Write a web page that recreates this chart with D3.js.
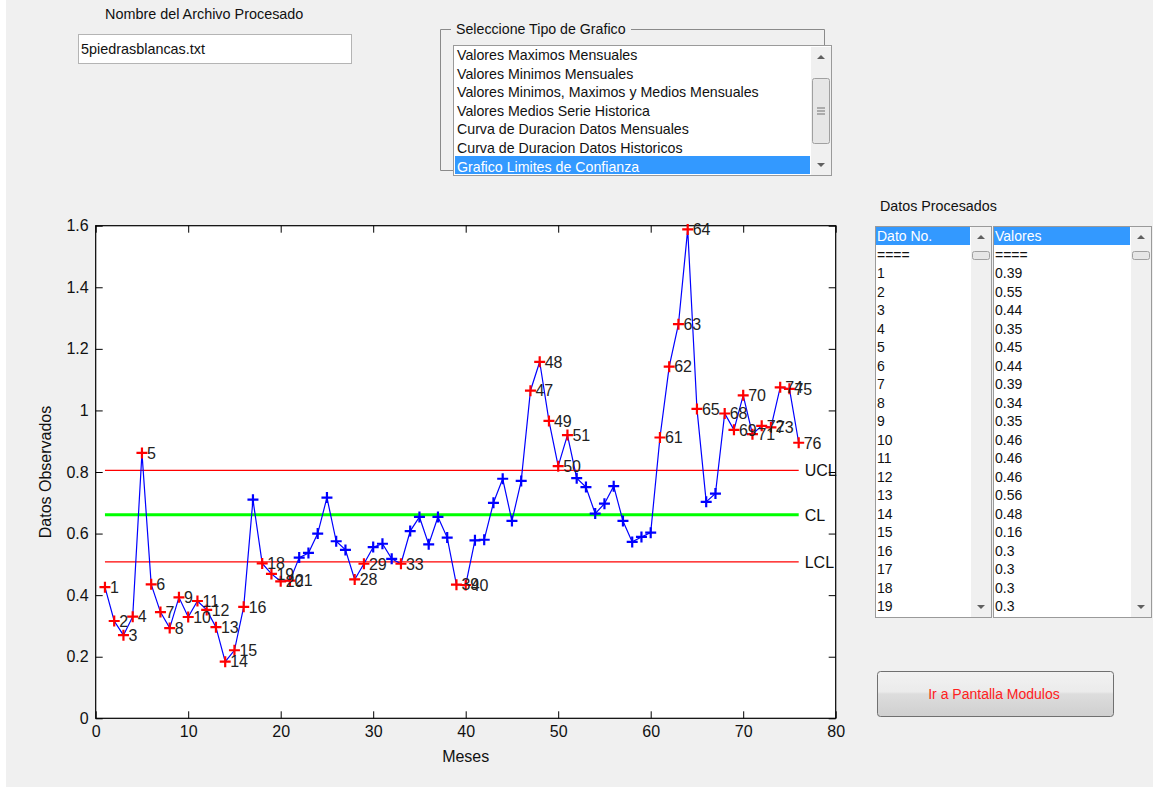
<!DOCTYPE html>
<html>
<head>
<meta charset="utf-8">
<script src="https://cdn.jsdelivr.net/npm/d3@7"></script>
<style>
  body { margin: 0; background: #fff; }
  svg { display: block; font-family: "Liberation Sans", Arial, sans-serif; }
</style>
</head>
<body>
<div id="chart-area"></div>
<script>
// Datos observados por mes (1..76)
let valores = [
  0.426, 0.316, 0.270, 0.330, 0.862, 0.435, 0.345, 0.293, 0.393, 0.329,
  0.381, 0.352, 0.296, 0.184, 0.221, 0.362, 0.710, 0.503, 0.469, 0.445,
  0.447, 0.522, 0.537, 0.600, 0.717, 0.575, 0.547, 0.451, 0.502, 0.556,
  0.567, 0.518, 0.502, 0.608, 0.654, 0.565, 0.654, 0.587, 0.434, 0.433,
  0.578, 0.580, 0.700, 0.778, 0.641, 0.771, 1.064, 1.158, 0.966, 0.819,
  0.920, 0.780, 0.751, 0.665, 0.697, 0.754, 0.641, 0.573, 0.589, 0.603,
  0.912, 1.142, 1.280, 1.588, 1.005, 0.703, 0.730, 0.990, 0.937, 1.049,
  0.923, 0.950, 0.945, 1.075, 1.070, 0.895
];
let meses = valores.map((v, i) => i + 1);

// Limites de confianza
let limites = [
  { name: 'UCL', value: 0.805, color: '#ff0000', width: 1.2 },
  { name: 'CL', value: 0.661, color: '#00ff00', width: 3 },
  { name: 'LCL', value: 0.508, color: '#ff0000', width: 1.2 }
];

let xTicks = [0, 10, 20, 30, 40, 50, 60, 70, 80];
let yTicks = [0, 0.2, 0.4, 0.6, 0.8, 1, 1.2, 1.4, 1.6];

// Interfaz
let tiposGrafico = [
  'Valores Maximos Mensuales',
  'Valores Minimos Mensuales',
  'Valores Minimos, Maximos y Medios Mensuales',
  'Valores Medios Serie Historica',
  'Curva de Duracion Datos Mensuales',
  'Curva de Duracion Datos Historicos',
  'Grafico Limites de Confianza'
];
let datoNo = ['====', '1', '2', '3', '4', '5', '6', '7', '8', '9', '10',
  '11', '12', '13', '14', '15', '16', '17', '18', '19'];
let datoValores = ['====', '0.39', '0.55', '0.44', '0.35', '0.45', '0.44', '0.39',
  '0.34', '0.35', '0.46', '0.46', '0.46', '0.56', '0.48', '0.16', '0.3', '0.3',
  '0.3', '0.3'];

let W = 1153, H = 789;
let svg = d3.select('#chart-area').append('svg')
  .attr('width', W).attr('height', H);

// fondo de la figura
svg.append('rect').attr('x', 6).attr('y', 0).attr('width', W - 6).attr('height', 787)
  .attr('fill', '#f0f0f0');

// ---------- controles superiores ----------
svg.append('text').attr('x', 105).attr('y', 19).attr('font-size', 14.4)
  .attr('fill', '#111').text('Nombre del Archivo Procesado');
svg.append('rect').attr('x', 78.5).attr('y', 34.5).attr('width', 273).attr('height', 29)
  .attr('fill', '#fff').attr('stroke', '#b4b4b4');
svg.append('text').attr('x', 81).attr('y', 54).attr('font-size', 14.4)
  .attr('fill', '#111').text('5piedrasblancas.txt');

// group box
let gb = svg.append('g');
gb.append('path').attr('d', 'M451,29.5 H440.5 V170.5 H455')
  .attr('fill', 'none').attr('stroke', '#8a8a8a');
gb.append('path').attr('d', 'M631,29.5 H824.5 V46')
  .attr('fill', 'none').attr('stroke', '#8a8a8a');
gb.append('text').attr('x', 456).attr('y', 34).attr('font-size', 14.2)
  .attr('fill', '#111').text('Seleccione Tipo de Grafico');

// listbox
let lb = svg.append('g');
lb.append('rect').attr('x', 453.5).attr('y', 45.5).attr('width', 378).attr('height', 130)
  .attr('fill', '#fff').attr('stroke', '#9a9a9a');
lb.append('rect').attr('x', 455).attr('y', 156).attr('width', 355).attr('height', 18)
  .attr('fill', '#3399ff');
lb.selectAll('text.item').data(tiposGrafico).enter().append('text')
  .attr('class', 'item')
  .attr('x', 457)
  .attr('y', (d, i) => 60 + i * 18.6)
  .attr('font-size', 14.2)
  .attr('fill', (d, i) => i === tiposGrafico.length - 1 ? '#fff' : '#111')
  .text(d => d);
drawScrollbar(lb, 811, 47, 20, 128, 78, 65, true);

// ---------- Datos Procesados ----------
svg.append('text').attr('x', 880).attr('y', 211).attr('font-size', 14.3)
  .attr('fill', '#111').text('Datos Procesados');
drawList(875, ['Dato No.'].concat(datoNo), 117);
drawList(993, ['Valores'].concat(datoValores), 159);

function drawList(x0, items, w) {
  let g = svg.append('g');
  g.append('rect').attr('x', x0 + 0.5).attr('y', 226.5).attr('width', w - 1).attr('height', 391)
    .attr('fill', '#fff').attr('stroke', '#9a9a9a');
  g.append('rect').attr('x', x0 + 1).attr('y', 227).attr('width', w - 23).attr('height', 18)
    .attr('fill', '#3399ff');
  g.selectAll('text').data(items).enter().append('text')
    .attr('x', x0 + 2)
    .attr('y', (d, i) => 241 + i * 18.5)
    .attr('font-size', 14)
    .attr('fill', (d, i) => i === 0 ? '#fff' : '#111')
    .text(d => d);
  drawScrollbar(g, x0 + w - 21, 227, 20, 390, 251, 8, false);
}

function drawScrollbar(g, x, y, w, h, ty, th, grip) {
  g.append('rect').attr('x', x).attr('y', y).attr('width', w).attr('height', h)
    .attr('fill', '#f0f0f0');
  g.append('path')
    .attr('d', `M${x + w / 2 - 4},${y + 12} L${x + w / 2 + 4},${y + 12} L${x + w / 2},${y + 8} Z`)
    .attr('fill', '#606060');
  g.append('path')
    .attr('d', `M${x + w / 2 - 4},${y + h - 12} L${x + w / 2 + 4},${y + h - 12} L${x + w / 2},${y + h - 8} Z`)
    .attr('fill', '#606060');
  g.append('rect').attr('x', x + 1.5).attr('y', ty + 0.5).attr('width', w - 3).attr('height', th)
    .attr('rx', 2).attr('fill', '#e6e6e6').attr('stroke', '#a0a0a0');
  if (grip) {
    let cy = ty + th / 2;
    [-3, 0, 3].forEach(o => {
      g.append('line').attr('x1', x + w / 2 - 4).attr('x2', x + w / 2 + 4)
        .attr('y1', cy + o + 0.5).attr('y2', cy + o + 0.5).attr('stroke', '#707070');
    });
  }
}

// boton
let defs = svg.append('defs');
let grad = defs.append('linearGradient').attr('id', 'btn').attr('x1', 0).attr('x2', 0).attr('y1', 0).attr('y2', 1);
grad.append('stop').attr('offset', '0%').attr('stop-color', '#f2f2f2');
grad.append('stop').attr('offset', '45%').attr('stop-color', '#ebebeb');
grad.append('stop').attr('offset', '50%').attr('stop-color', '#dddddd');
grad.append('stop').attr('offset', '100%').attr('stop-color', '#cfcfcf');
svg.append('rect').attr('x', 877.5).attr('y', 671.5).attr('width', 236).attr('height', 45)
  .attr('rx', 3).attr('fill', 'url(#btn)').attr('stroke', '#707070');
svg.append('text').attr('x', 994).attr('y', 699).attr('text-anchor', 'middle')
  .attr('font-size', 14).attr('fill', '#ff2020').text('Ir a Pantalla Modulos');

// ---------- grafico ----------
let margin = { left: 95.7, top: 225.7, right: 835.7, bottom: 718.3 };

let x = d3.scaleLinear().domain([0, 80]).range([margin.left, margin.right]);
let y = d3.scaleLinear().domain([0, 1.6]).range([margin.bottom, margin.top]);

let plot = svg.append('g');
plot.append('rect')
  .attr('x', margin.left).attr('y', margin.top)
  .attr('width', margin.right - margin.left).attr('height', margin.bottom - margin.top)
  .attr('fill', '#fff');

let fmt = d => String(+d.toFixed(1));

function styleAxis(sel, labels) {
  sel.select('.domain').remove();
  sel.selectAll('.tick line').attr('stroke', '#000');
  sel.selectAll('.tick text')
    .attr('font-size', 16).attr('fill', '#111')
    .attr('font-family', '"Liberation Sans", Arial, sans-serif');
  if (!labels) sel.selectAll('.tick text').remove();
}

plot.append('g').attr('transform', `translate(0,${margin.bottom})`)
  .call(d3.axisBottom(x).tickValues(xTicks).tickFormat(fmt).tickSizeInner(-7).tickSizeOuter(0).tickPadding(7))
  .call(styleAxis, true);
plot.append('g').attr('transform', `translate(0,${margin.top})`)
  .call(d3.axisTop(x).tickValues(xTicks).tickSizeInner(-7).tickSizeOuter(0))
  .call(styleAxis, false);
plot.append('g').attr('transform', `translate(${margin.left},0)`)
  .call(d3.axisLeft(y).tickValues(yTicks).tickFormat(fmt).tickSizeInner(-7).tickSizeOuter(0).tickPadding(7))
  .call(styleAxis, true);
plot.append('g').attr('transform', `translate(${margin.right},0)`)
  .call(d3.axisRight(y).tickValues(yTicks).tickSizeInner(-7).tickSizeOuter(0))
  .call(styleAxis, false);

plot.append('rect')
  .attr('x', margin.left).attr('y', margin.top)
  .attr('width', margin.right - margin.left).attr('height', margin.bottom - margin.top)
  .attr('fill', 'none').attr('stroke', '#000').attr('stroke-width', 1.2);

// lineas de control
let primero = meses[0], ultimo = meses[meses.length - 1];
plot.selectAll('line.limit').data(limites).enter().append('line')
  .attr('class', 'limit')
  .attr('x1', x(primero)).attr('x2', x(ultimo))
  .attr('y1', d => y(d.value)).attr('y2', d => y(d.value))
  .attr('stroke', d => d.color).attr('stroke-width', d => d.width);
plot.selectAll('text.limit').data(limites).enter().append('text')
  .attr('class', 'limit')
  .attr('x', x(ultimo) + 6)
  .attr('y', d => y(d.value))
  .attr('dy', '0.36em')
  .attr('font-size', 16).attr('fill', '#111')
  .text(d => d.name);

// serie
let data = meses.map((m, i) => ({ mes: m, valor: valores[i] }));
let ucl = limites[0].value, lcl = limites[2].value;
let fuera = d => d.valor > ucl || d.valor < lcl;

plot.append('path').datum(data)
  .attr('fill', 'none').attr('stroke', '#0000ff').attr('stroke-width', 1.2)
  .attr('d', d3.line().x(d => x(d.mes)).y(d => y(d.valor)));

let s = 5.5;
let marks = plot.selectAll('g.mark').data(data).enter().append('g')
  .attr('class', 'mark')
  .attr('transform', d => `translate(${x(d.mes)},${y(d.valor)})`);
marks.append('path')
  .attr('d', `M${-s},0 H${s} M0,${-s} V${s}`)
  .attr('stroke', d => fuera(d) ? '#ff0000' : '#0000ff')
  .attr('stroke-width', 2.2).attr('fill', 'none');

plot.selectAll('text.lbl').data(data.filter(fuera)).enter().append('text')
  .attr('class', 'lbl')
  .attr('x', d => x(d.mes) + 5)
  .attr('y', d => y(d.valor))
  .attr('dy', '0.36em')
  .attr('font-size', 16).attr('fill', '#222')
  .text(d => d.mes);

// titulos de ejes
svg.append('text').attr('x', (margin.left + margin.right) / 2).attr('y', 762)
  .attr('text-anchor', 'middle').attr('font-size', 16).attr('fill', '#111').text('Meses');
svg.append('text')
  .attr('transform', `translate(51,${(margin.top + margin.bottom) / 2}) rotate(-90)`)
  .attr('text-anchor', 'middle').attr('font-size', 16).attr('fill', '#111').text('Datos Observados');
</script>
</body>
</html>
